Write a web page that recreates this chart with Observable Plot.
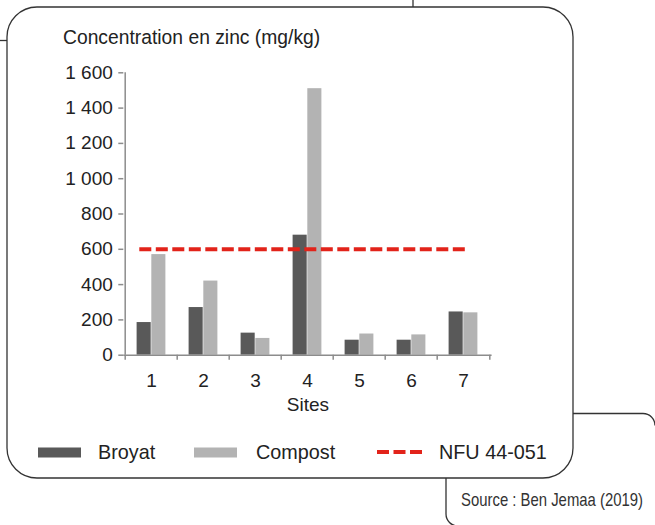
<!DOCTYPE html>
<html>
<head>
<meta charset="utf-8">
<script src="https://cdn.jsdelivr.net/npm/d3@7"></script>
<script src="https://cdn.jsdelivr.net/npm/@observablehq/plot@0.6"></script>
<style>
  html, body { margin: 0; padding: 0; background: #fff; }
  #wrap { position: relative; width: 655px; height: 525px; overflow: hidden; font-family: "Liberation Sans", Arial, sans-serif; color: #222; }
  #chart { position: absolute; left: 0; top: 0; }
  #title { position: absolute; left: 63px; top: 27px; font-size: 19.3px; white-space: nowrap; }
  .leg { position: absolute; top: 441px; font-size: 19.8px; white-space: nowrap; line-height: 22px; }
  .sw { position: absolute; }
  #source { position: absolute; left: 461px; top: 489px; font-family: "Liberation Sans", Arial, sans-serif; font-size: 19px; color: #333; white-space: nowrap; transform-origin: 0 50%; display: inline-block; }
  #deco { position: absolute; left: 0; top: 0; pointer-events: none; }
</style>
</head>
<body>
<div id="wrap">
  <svg id="deco" width="655" height="525"></svg>
  <div id="chart"></div>
  <div id="title"></div>
  <div id="legend"></div>
  <span id="source"></span>
</div>
<script>
// ---- data ----
const sites = ["1", "2", "3", "4", "5", "6", "7"];
const broyat = [185, 270, 125, 680, 85, 85, 245];
const compost = [570, 420, 95, 1510, 120, 115, 240];
const limitValue = 600;
const yTicks = [0, 200, 400, 600, 800, 1000, 1200, 1400, 1600];
const seriesNames = ["Broyat", "Compost", "NFU 44-051"];
const titleText = "Concentration en zinc (mg/kg)";
const xLabel = "Sites";
const sourceText = "Source : Ben Jemaa (2019)";

// ---- table ----
const table = sites.map((s, i) => ({site: s, broyat: broyat[i], compost: compost[i]}));

// ---- layout ----
const W = 655, H = 420, mL = 123.3, mR = 163.4, mT = 72.3, mB = 65.3;
const bw = (W - mL - mR) / sites.length;
const barW = 14.7;
const axisColor = "#8c8c8c";
const darkCol = "#595959", lightCol = "#b3b3b3", redCol = "#e2231a";
const fmt = d => d >= 1000 ? d3.format(",")(d).replace(",", "\u00a0") : String(d);

const chart = Plot.plot({
  width: W, height: H,
  marginLeft: mL, marginRight: mR, marginTop: mT, marginBottom: mB,
  style: {fontFamily: "'Liberation Sans', Arial, sans-serif", fontSize: "19px", color: "#222", background: "transparent", overflow: "visible"},
  x: {domain: sites, padding: 0, axis: null},
  y: {domain: [0, 1600], axis: null},
  marks: [
    Plot.barY(table, {x: "site", y: "broyat", fill: darkCol, insetLeft: bw / 2 - barW, insetRight: bw / 2}),
    Plot.barY(table, {x: "site", y: "compost", fill: lightCol, insetLeft: bw / 2, insetRight: bw / 2 - barW}),
    Plot.ruleY([0], {stroke: axisColor, strokeWidth: 1.5}),
    Plot.ruleX([sites[0]], {dx: -bw / 2, stroke: axisColor, strokeWidth: 1.5}),
    Plot.ruleX(sites, {dx: -bw / 2, insetTop: H - mT - mB, insetBottom: -5, stroke: axisColor, strokeWidth: 1.5}),
    Plot.ruleX([sites[sites.length - 1]], {dx: bw / 2, insetTop: H - mT - mB, insetBottom: -5, stroke: axisColor, strokeWidth: 1.5}),
    Plot.axisY({ticks: yTicks, tickSize: 5, tickFormat: () => "", stroke: axisColor, strokeWidth: 1.5, label: null}),
    Plot.axisY({ticks: yTicks, tickSize: 0, tickPadding: 11, tickFormat: fmt, fill: "#222", label: null}),
    Plot.axisX({tickSize: 0, tickPadding: 18, fill: "#222", label: xLabel, labelAnchor: "center", labelOffset: 56}),
    Plot.ruleY([limitValue], {stroke: redCol, strokeWidth: 4, strokeDasharray: "12,4.5", insetLeft: 16, insetRight: 26})
  ]
});
document.getElementById("chart").appendChild(chart);

document.getElementById("title").textContent = titleText;
const src = document.getElementById("source");
src.textContent = sourceText;
const srcW = src.getBoundingClientRect().width;
src.style.transform = `scaleX(${182 / srcW})`;

// ---- legend ----
const legend = document.getElementById("legend");
const legItems = [
  {name: seriesNames[0], type: "box", color: darkCol, x: 38, tx: 98},
  {name: seriesNames[1], type: "box", color: lightCol, x: 194, tx: 256},
  {name: seriesNames[2], type: "dash", color: redCol, x: 377, tx: 439}
];
legItems.forEach(it => {
  const sw = document.createElementNS("http://www.w3.org/2000/svg", "svg");
  sw.setAttribute("class", "sw");
  sw.setAttribute("width", 45); sw.setAttribute("height", 12);
  sw.style.left = it.x + "px"; sw.style.top = "446px"; sw.style.position = "absolute";
  if (it.type === "box") {
    sw.innerHTML = `<rect x="0" y="1.5" width="43" height="10" fill="${it.color}"/>`;
  } else {
    sw.innerHTML = `<line x1="0" x2="45" y1="6" y2="6" stroke="${it.color}" stroke-width="4" stroke-dasharray="12,4.5"/>`;
  }
  legend.appendChild(sw);
  const t = document.createElement("div");
  t.className = "leg";
  t.style.left = it.tx + "px";
  t.textContent = it.name;
  legend.appendChild(t);
});

// ---- decorative frame ----
document.getElementById("deco").innerHTML = `
  <g fill="none" stroke="#333" stroke-width="1.3">
    <rect x="7" y="7" width="566" height="471" rx="30" ry="30"/>
    <line x1="413" y1="0" x2="413" y2="7"/>
    <line x1="0" y1="40.5" x2="7" y2="40.5"/>
    <path d="M573,413.5 H643 A12,12 0 0 1 655,425.5"/>
    <path d="M446,478 V514 A12,12 0 0 0 458,526"/>
  </g>`;
</script>
</body>
</html>
